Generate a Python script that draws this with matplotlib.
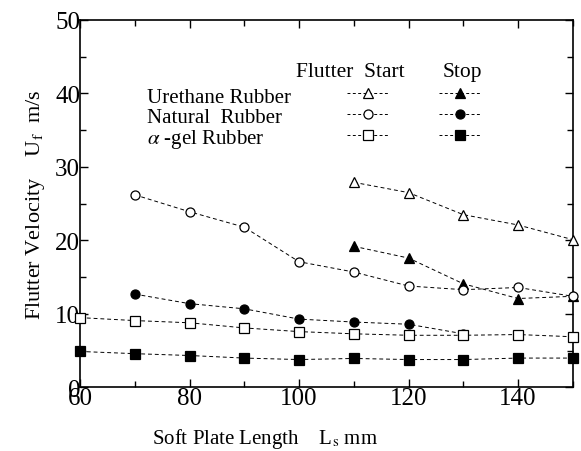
import numpy as np
import matplotlib
matplotlib.use("Agg")
import matplotlib.pyplot as plt
from matplotlib.lines import Line2D

plt.rcParams['font.family'] = ['Liberation Serif', 'DejaVu Serif']
plt.rcParams['mathtext.fontset'] = 'stix'

# plate length (mm)
L_ure = [110, 120, 130, 140, 150]
L_nat = [70, 80, 90, 100, 110, 120, 130, 140, 150]
L_nat_stop = [70, 80, 90, 100, 110, 120, 130]
L_gel = [60, 70, 80, 90, 100, 110, 120, 130, 140, 150]

# flutter velocity (m/s)
ure_start = [27.9, 26.5, 23.5, 22.1, 20.1]
ure_stop = [19.2, 17.6, 14.1, 12.1, 12.4]
nat_start = [26.2, 23.9, 21.8, 17.1, 15.7, 13.8, 13.3, 13.6, 12.4]
nat_stop = [12.7, 11.4, 10.7, 9.3, 8.9, 8.6, 7.3]
gel_start = [9.5, 9.1, 8.8, 8.1, 7.6, 7.3, 7.1, 7.1, 7.2, 6.9]
gel_stop = [4.9, 4.6, 4.35, 4.0, 3.8, 3.95, 3.8, 3.8, 4.0, 4.0]

names = ['Urethane Rubber', 'Natural  Rubber', r'$\alpha$ -gel Rubber']
markers = ['^', 'o', 's']

fig = plt.figure(figsize=(5.81, 4.52), dpi=100)
ax = fig.add_axes([0.1377, 0.1405, 0.8483, 0.8135])

ls = (0, (4, 3))
lw = 0.7
ms = 6.5

series = [
    (L_ure, ure_start, '^', 'white'),
    (L_ure, ure_stop, '^', 'black'),
    (L_nat, nat_start, 'o', 'white'),
    (L_nat_stop, nat_stop, 'o', 'black'),
    (L_gel, gel_start, 's', 'white'),
    (L_gel, gel_stop, 's', 'black'),
]
for x, y, m, fc in series:
    ax.plot(x, y, linestyle=ls, color='black', lw=lw, marker=m, ms=ms,
            mfc=fc, mec='black', mew=0.9, clip_on=False, zorder=3)

ax.set_xlim(60, 150)
ax.set_ylim(0, 50)
ax.set_xticks([60, 80, 100, 120, 140])
ax.set_xticks(np.arange(60, 151, 10), minor=True)
ax.set_yticks([0, 10, 20, 30, 40, 50])
ax.set_yticks(np.arange(0, 51, 5), minor=True)
ax.tick_params(which='both', direction='in', top=True, right=True,
               labelsize=18, width=1.0)
ax.tick_params(which='major', length=6, pad=0)
ax.tick_params(which='minor', length=4)
for s in ax.spines.values():
    s.set_linewidth(1.2)

ax.set_xlabel(r'Soft Plate Length    L$_{\rm s}$ mm', fontsize=15)
ax.xaxis.set_label_coords(0.375, -0.105)
ax.set_ylabel(r'Flutter Velocity    U$_{\rm f}$  m/s', fontsize=16, labelpad=6)

# legend block drawn by hand
ax.text(0.438, 0.86, 'Flutter  Start', transform=ax.transAxes, fontsize=15.5,
        ha='left', va='center')
ax.text(0.735, 0.86, 'Stop', transform=ax.transAxes, fontsize=15.5,
        ha='left', va='center')
rows = [0.80, 0.745, 0.686]
for name, m, yr in zip(names, markers, rows):
    ax.text(0.136, yr - 0.01, name, transform=ax.transAxes, fontsize=15,
            ha='left', va='center')
    for xc, fc in [(0.584, 'white'), (0.771, 'black')]:
        ax.add_line(Line2D([xc - 0.043, xc + 0.043], [yr, yr], transform=ax.transAxes,
                           linestyle=(0, (3, 2.5)), color='black', lw=lw))
        ax.add_line(Line2D([xc], [yr], transform=ax.transAxes, marker=m, ms=ms,
                           mfc=fc, mec='black', mew=0.9, linestyle='none'))

fig.savefig('out.png', dpi=100)
